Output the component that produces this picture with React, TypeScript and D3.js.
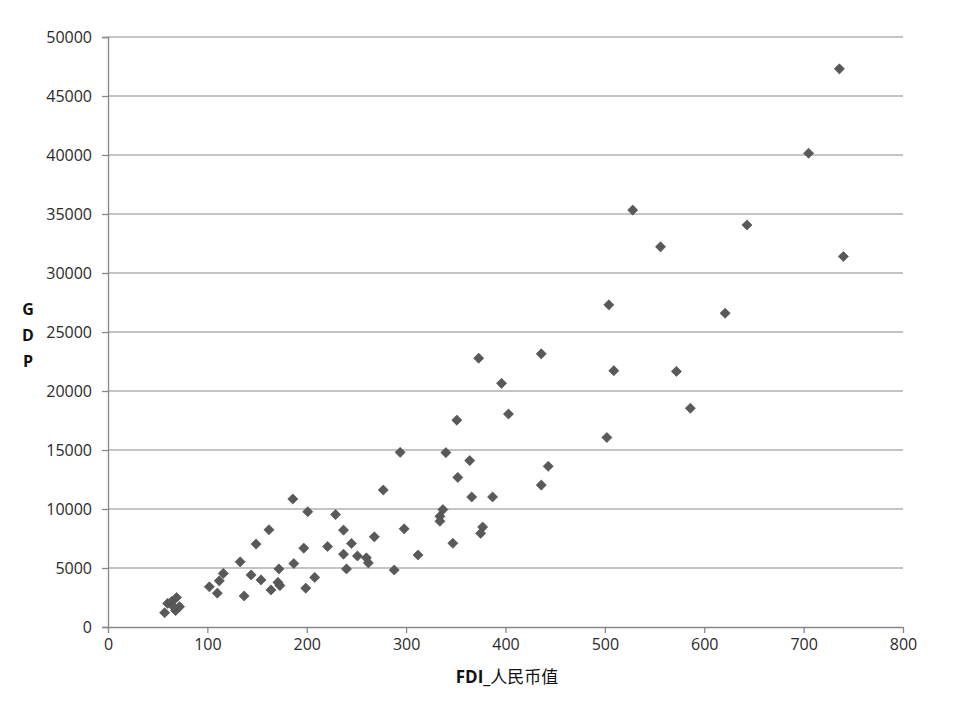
import React, { useEffect, useRef } from "react";
import * as d3 from "d3";

// FDI (RMB) vs GDP
const fdi = [
  736, 705, 740, 643, 528, 556, 504, 621, 436, 373, 509, 572, 396, 403, 586,
  351, 502, 294, 340, 364, 443, 352, 436, 277, 366, 387, 186, 201, 229, 337,
  334, 334, 377, 298, 162, 237, 375, 268, 149, 245, 347, 221, 197, 237, 251,
  312, 260, 262, 133, 187, 240, 172, 288, 116, 144, 208, 154, 112, 171, 173,
  102, 199, 164, 110, 137, 57, 60, 64, 69, 68, 72, 66,
];
const gdp = [
  47300, 40150, 31400, 34070, 35330, 32220, 27300, 26590, 23150, 22780, 21720,
  21660, 20650, 18050, 18540, 17530, 16060, 14800, 14780, 14100, 13620, 12680,
  12030, 11610, 11020, 11020, 10850, 9770, 9530, 9950, 9380, 8960, 8470, 8320,
  8240, 8210, 7940, 7640, 7030, 7080, 7100, 6820, 6680, 6170, 6020, 6100, 5860,
  5430, 5520, 5380, 4920, 4920, 4830, 4540, 4410, 4200, 3990, 3910, 3780, 3510,
  3410, 3290, 3140, 2870, 2630, 1210, 2000, 2150, 2500, 1390, 1720, 1720,
];
const xTicks = [0, 100, 200, 300, 400, 500, 600, 700, 800];
const yTicks = [0, 5000, 10000, 15000, 20000, 25000, 30000, 35000, 40000, 45000, 50000];

export default function App() {
  const ref = useRef<SVGSVGElement>(null);

  useEffect(() => {
    document.body.style.margin = "0";
    const width = 953;
    const height = 715;
    const left = 108,
      right = 903,
      top = 37,
      bottom = 627;

    const svg = d3.select(ref.current);
    svg.selectAll("*").remove();

    const x = d3.scaleLinear().domain([0, 800]).range([left, right]);
    const y = d3.scaleLinear().domain([0, 50000]).range([bottom, top]);

    svg.append("rect").attr("width", width).attr("height", height).attr("fill", "#fff");

    // gridlines
    svg
      .append("g")
      .selectAll("line")
      .data(yTicks.filter((d) => d > 0))
      .join("line")
      .attr("x1", left)
      .attr("x2", right)
      .attr("y1", (d) => y(d))
      .attr("y2", (d) => y(d))
      .attr("stroke", "#b0b0b0")
      .attr("stroke-width", 1.3);

    const font = "'Open Sans', 'DejaVu Sans', sans-serif";

    // y axis
    const yAxis = svg
      .append("g")
      .attr("transform", `translate(${left},0)`)
      .call(d3.axisLeft(y).tickValues(yTicks).tickSize(6).tickPadding(10).tickFormat(d3.format("d")));
    yAxis.select(".domain").attr("stroke", "#888").attr("stroke-width", 1.3);
    yAxis.selectAll(".tick line").attr("stroke", "#888").attr("stroke-width", 1.3);
    yAxis
      .selectAll(".tick text")
      .attr("font-family", font)
      .attr("font-size", 16)
      .attr("fill", "#2a2a2a");

    // x axis
    const xAxis = svg
      .append("g")
      .attr("transform", `translate(0,${bottom})`)
      .call(d3.axisBottom(x).tickValues(xTicks).tickSize(6).tickPadding(6).tickSizeOuter(0));
    xAxis.select(".domain").attr("stroke", "#888").attr("stroke-width", 1.3);
    xAxis.selectAll(".tick line").attr("stroke", "#888").attr("stroke-width", 1.3);
    xAxis
      .selectAll(".tick text")
      .attr("font-family", font)
      .attr("font-size", 16)
      .attr("fill", "#2a2a2a");

    // points
    const diamond = d3.symbol().type(d3.symbolDiamond2).size(66);
    svg
      .append("g")
      .selectAll("path")
      .data(fdi.map((v, i) => [v, gdp[i]]))
      .join("path")
      .attr("d", diamond)
      .attr("transform", (d) => `translate(${x(d[0])},${y(d[1])})`)
      .attr("fill", "#595959")
      .attr("stroke", "#4a4a4a")
      .attr("stroke-width", 0.6);

    // axis titles
    const xt = svg
      .append("text")
      .attr("x", 507)
      .attr("y", 683)
      .attr("text-anchor", "middle")
      .attr("font-family", "'Open Sans', 'Noto Sans CJK SC', sans-serif")
      .attr("font-size", 17)
      .attr("fill", "#111");
    xt.append("tspan").attr("font-weight", "bold").text("FDI_");
    xt.append("tspan").attr("font-family", "'Noto Sans CJK SC', sans-serif").text("人民币值");

    svg
      .append("g")
      .selectAll("text")
      .data(["G", "D", "P"])
      .join("text")
      .attr("x", 28)
      .attr("y", (d, i) => 315 + i * 26)
      .attr("text-anchor", "middle")
      .attr("font-family", font)
      .attr("font-weight", "bold")
      .attr("font-size", 16)
      .attr("fill", "#111")
      .text((d) => d);
  }, []);

  return <svg ref={ref} width={953} height={715} style={{ display: "block" }} />;
}
